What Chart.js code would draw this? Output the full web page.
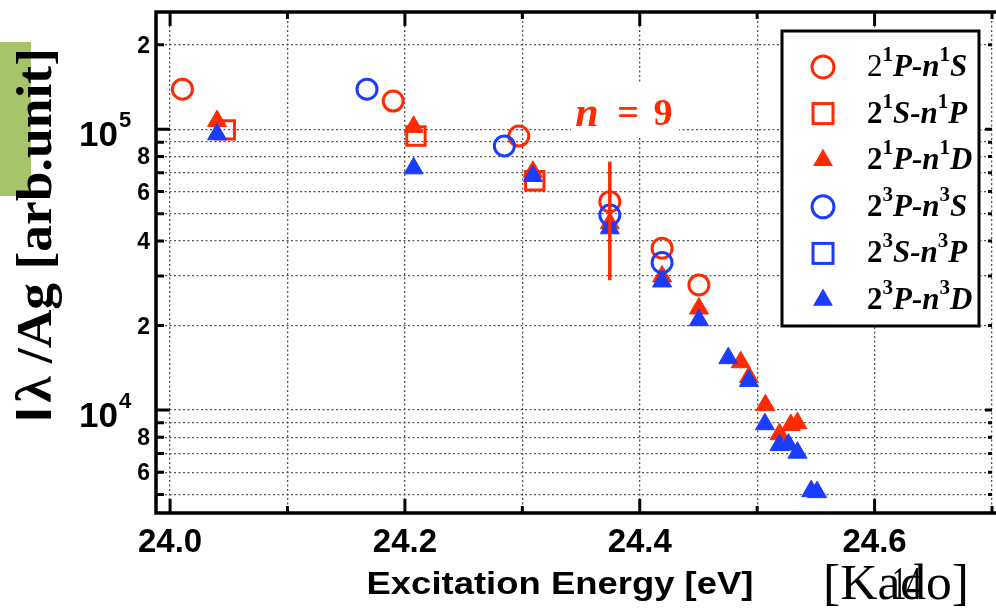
<!DOCTYPE html>
<html>
<head>
<meta charset="utf-8">
<script src="https://cdn.jsdelivr.net/npm/chart.js@4.4.0/dist/chart.umd.min.js"></script>
<style>
  html, body { margin: 0; padding: 0; background: #fff; }
  canvas { display: block; }
</style>
</head>
<body>
<canvas id="chart" width="996" height="611"></canvas>
<script>
const RED = '#ff2a00';
const BLUE = '#1a3cff';

// excitation energy [eV] and I*lambda/Ag [arb. unit]
const s1P_nS_E = [24.0105, 24.190, 24.297, 24.3745, 24.419, 24.4504];
const s1P_nS_I = [1.39e5, 1.26e5, 9.46e4, 5.52e4, 3.77e4, 2.79e4];

const s1S_nP_E = [24.047, 24.2094, 24.3106];
const s1S_nP_I = [9.95e4, 9.46e4, 6.56e4];

const s1P_nD_E = [24.040, 24.2074, 24.309, 24.3745, 24.419, 24.4504, 24.486, 24.493, 24.507, 24.519, 24.5286, 24.5343];
const s1P_nD_I = [1.07e5, 1.02e5, 7.06e4, 4.63e4, 2.99e4, 2.30e4, 1.48e4, 1.31e4, 1.04e4, 8.2e3, 8.84e3, 8.97e3];

const s3P_nS_E = [24.1677, 24.2847, 24.3745, 24.419];
const s3P_nS_I = [1.39e5, 8.72e4, 4.95e4, 3.35e4];

const s3S_nP_E = [];
const s3S_nP_I = [];

const s3P_nD_E = [24.040, 24.2074, 24.309, 24.3745, 24.419, 24.4504, 24.4754, 24.493, 24.5066, 24.519, 24.5266, 24.5343, 24.546, 24.551];
const s3P_nD_I = [9.6e4, 7.26e4, 6.82e4, 4.44e4, 2.87e4, 2.09e4, 1.53e4, 1.27e4, 8.9e3, 7.5e3, 7.53e3, 7.05e3, 5.14e3, 5.1e3];

// n = 9 bar
const n9_E = [24.3745, 24.3745];
const n9_I = [2.9e4, 7.67e4];

const seriesNames = ['2¹P-n¹S', '2¹S-n¹P', '2¹P-n¹D', '2³P-n³S', '2³S-n³P', '2³P-n³D'];
const legendParts = [
  ['2', '1', 'P-n', '1', 'S'],
  ['2', '1', 'S-n', '1', 'P'],
  ['2', '1', 'P-n', '1', 'D'],
  ['2', '3', 'P-n', '3', 'S'],
  ['2', '3', 'S-n', '3', 'P'],
  ['2', '3', 'P-n', '3', 'D']
];

const xTicks = [24.0, 24.1, 24.2, 24.3, 24.4, 24.5, 24.6, 24.7];
const xTickLabels = ['24.0', '', '24.2', '', '24.4', '', '24.6', ''];
const yTicks = [5e3, 6e3, 7e3, 8e3, 9e3, 1e4, 2e4, 3e4, 4e4, 5e4, 6e4, 7e4, 8e4, 9e4, 1e5, 2e5];
const yTickLabels = ['', '6', '', '8', '', '10^4', '2', '', '4', '', '6', '', '8', '', '10^5', '2'];

const SANS = '"Liberation Sans", Arial, sans-serif';
const SERIF = '"Liberation Serif", "Times New Roman", serif';

const pts = (xs, ys) => xs.map((x, i) => ({ x, y: ys[i] }));

function series(i, xs, ys, style, color, filled, order, r) {
  return {
    label: seriesNames[i],
    data: pts(xs, ys),
    pointStyle: style,
    pointRadius: r,
    pointHoverRadius: r,
    borderColor: color,
    backgroundColor: filled ? color : 'rgba(0,0,0,0)',
    pointBorderWidth: filled ? 1 : 3,
    order
  };
}

function drawMarker(c, style, color, x, y) {
  c.save();
  c.strokeStyle = color; c.fillStyle = color; c.lineWidth = 3;
  if (style === 'circle') {
    c.beginPath(); c.arc(x, y, 11, 0, Math.PI * 2); c.stroke();
  } else if (style === 'rect') {
    c.strokeRect(x - 10, y - 10, 20, 20);
  } else {
    const r = 11.5;
    c.beginPath();
    c.moveTo(x, y - r);
    c.lineTo(x + r * 0.866, y + r / 2);
    c.lineTo(x - r * 0.866, y + r / 2);
    c.closePath(); c.fill();
  }
  c.restore();
}

// draw text squeezed or stretched to a given width
function fitText(c, text, font, x, y, width, align) {
  c.save();
  c.font = font;
  const w = c.measureText(text).width;
  c.translate(x, y);
  c.scale(width / w, 1);
  c.textAlign = align; c.textBaseline = 'alphabetic';
  c.fillText(text, 0, 0);
  c.restore();
}

const deco = {
  id: 'deco',
  beforeDraw(chart) {
    const c = chart.ctx;
    c.save();
    c.fillStyle = '#a8c46a';
    c.fillRect(0, 42, 31, 154);
    c.restore();
  },
  afterDraw(chart) {
    const c = chart.ctx, a = chart.chartArea;
    const xs = chart.scales.x, ys = chart.scales.y;
    c.save();

    // spines
    c.strokeStyle = '#000'; c.lineWidth = 3.5; c.lineCap = 'butt';
    c.beginPath();
    c.moveTo(a.left, a.top - 1.5); c.lineTo(a.left, a.bottom + 1.5);
    c.moveTo(a.left - 1.5, a.top); c.lineTo(996, a.top);
    c.moveTo(a.left - 1.5, a.bottom); c.lineTo(996, a.bottom);
    c.stroke();

    // tick marks (inside)
    c.lineWidth = 3;
    yTicks.forEach((v, i) => {
      const py = ys.getPixelForValue(v);
      const len = yTickLabels[i].startsWith('10') ? 14 : 8;
      c.beginPath();
      c.moveTo(a.left, py); c.lineTo(a.left + len, py);
      c.moveTo(a.right, py); c.lineTo(a.right - len / 2, py);
      c.stroke();
    });
    xTicks.forEach((v, i) => {
      const px = xs.getPixelForValue(v);
      const len = xTickLabels[i] ? 14 : 7;
      c.beginPath();
      c.moveTo(px, a.bottom); c.lineTo(px, a.bottom - len);
      c.moveTo(px, a.top); c.lineTo(px, a.top + len);
      c.stroke();
    });

    // x tick labels
    c.fillStyle = '#000';
    c.textAlign = 'center'; c.textBaseline = 'alphabetic';
    c.font = 'bold 33px ' + SANS;
    xTicks.forEach((v, i) => {
      if (xTickLabels[i]) c.fillText(xTickLabels[i], xs.getPixelForValue(v), 552);
    });

    // y tick labels
    yTicks.forEach((v, i) => {
      const lab = yTickLabels[i];
      if (!lab) return;
      const py = ys.getPixelForValue(v);
      c.textBaseline = 'alphabetic';
      if (lab.includes('^')) {
        const [base, exp] = lab.split('^');
        c.textAlign = 'right';
        c.font = 'bold 35px ' + SANS;
        c.fillText(base, 118, py + 17);
        c.textAlign = 'left';
        c.font = 'bold 22px ' + SANS;
        c.fillText(exp, 119, py - 2);
      } else {
        c.textAlign = 'right';
        c.font = 'bold 23px ' + SANS;
        c.fillText(lab, 150, py + 8);
      }
    });

    // y title
    c.save();
    c.translate(51, 422);
    c.rotate(-Math.PI / 2);
    const yRuns = [
      { t: 'I', f: 'bold 50px ' + SANS, gap: 4 },
      { t: 'λ /Ag [arb.unit]', f: 'bold 50px ' + SERIF, gap: 0 }
    ];
    let tot = 0;
    yRuns.forEach(r => { c.font = r.f; tot += c.measureText(r.t).width + r.gap; });
    c.scale(374 / tot, 1);
    c.textAlign = 'left'; c.textBaseline = 'alphabetic';
    let xx = 0;
    yRuns.forEach(r => { c.font = r.f; c.fillText(r.t, xx, 0); xx += c.measureText(r.t).width + r.gap; });
    c.restore();

    // x title
    fitText(c, 'Excitation Energy [eV]', 'bold 31px ' + SANS, 560, 594, 387, 'center');

    // [Kado]
    fitText(c, '[Kado]', '50px ' + SERIF, 823, 599, 146, 'left');
    fitText(c, '14', '46px ' + SERIF, 892, 599, 29, 'left');

    // n = 9 annotation
    c.fillStyle = '#fff';
    c.fillRect(571, 83, 108, 53);
    c.fillStyle = RED;
    c.textAlign = 'center'; c.textBaseline = 'alphabetic';
    c.font = 'italic bold 42px ' + SERIF;
    c.fillText('n', 587, 126);
    c.font = 'bold 38px ' + SERIF;
    c.fillText('=', 628, 125);
    c.fillText('9', 663, 125);

    // legend
    const lx = 782, ly = 31, lw = 197, lh = 295;
    c.fillStyle = '#fff';
    c.fillRect(lx, ly, lw, lh);
    c.strokeStyle = '#000'; c.lineWidth = 3;
    c.strokeRect(lx, ly, lw, lh);
    chart.data.datasets.slice(0, 6).forEach((d, i) => {
      const ry = 67 + i * 46.6;
      drawMarker(c, d.pointStyle, d.borderColor, 823, ry);
      const p = legendParts[i];
      const runs = [
        { t: p[0], f: (i === 0 ? '' : 'bold ') + '31px ' + SERIF, dy: 0 },
        { t: p[1], f: 'bold 21px ' + SERIF, dy: -15 },
        { t: p[2], f: 'italic bold 31px ' + SERIF, dy: 0 },
        { t: p[3], f: 'bold 21px ' + SERIF, dy: -15 },
        { t: p[4], f: 'italic bold 31px ' + SERIF, dy: 0 }
      ];
      let tx = 867;
      c.fillStyle = '#000'; c.textAlign = 'left'; c.textBaseline = 'alphabetic';
      runs.forEach(r => {
        c.font = r.f;
        c.fillText(r.t, tx, ry + 9 + r.dy);
        tx += c.measureText(r.t).width;
      });
    });

    c.restore();
  }
};

const gridOpts = { color: '#555', lineWidth: 1.3, drawTicks: false };

new Chart(document.getElementById('chart').getContext('2d'), {
  type: 'scatter',
  data: {
    datasets: [
      series(0, s1P_nS_E, s1P_nS_I, 'circle', RED, false, 6, 10),
      series(1, s1S_nP_E, s1S_nP_I, 'rect', RED, false, 5, 13),
      series(2, s1P_nD_E, s1P_nD_I, 'triangle', RED, true, 4, 11),
      series(3, s3P_nS_E, s3P_nS_I, 'circle', BLUE, false, 3, 10),
      series(4, s3S_nP_E, s3S_nP_I, 'rect', BLUE, false, 2, 13),
      series(5, s3P_nD_E, s3P_nD_I, 'triangle', BLUE, true, 1, 11),
      {
        label: 'n = 9',
        type: 'line',
        data: pts(n9_E, n9_I),
        showLine: true,
        borderColor: RED,
        borderWidth: 3.5,
        pointRadius: 0,
        order: 0
      }
    ]
  },
  options: {
    responsive: false,
    devicePixelRatio: 1,
    animation: false,
    layout: { autoPadding: false, padding: { left: 0, top: 12, right: 4, bottom: 0 } },
    plugins: { legend: { display: false }, tooltip: { enabled: false } },
    scales: {
      x: {
        type: 'linear',
        min: 23.988,
        max: 24.7,
        afterBuildTicks: s => { s.ticks = xTicks.map(v => ({ value: v })); },
        afterFit: s => { s.height = 98; },
        ticks: { display: false },
        grid: gridOpts,
        border: { display: false, dash: [2, 2.5] }
      },
      y: {
        type: 'logarithmic',
        min: 4297,
        max: 2.617e5,
        afterBuildTicks: s => { s.ticks = yTicks.map(v => ({ value: v })); },
        afterFit: s => { s.width = 156; },
        ticks: { display: false },
        grid: gridOpts,
        border: { display: false, dash: [2, 2.5] }
      }
    }
  },
  plugins: [deco]
});
</script>
</body>
</html>
